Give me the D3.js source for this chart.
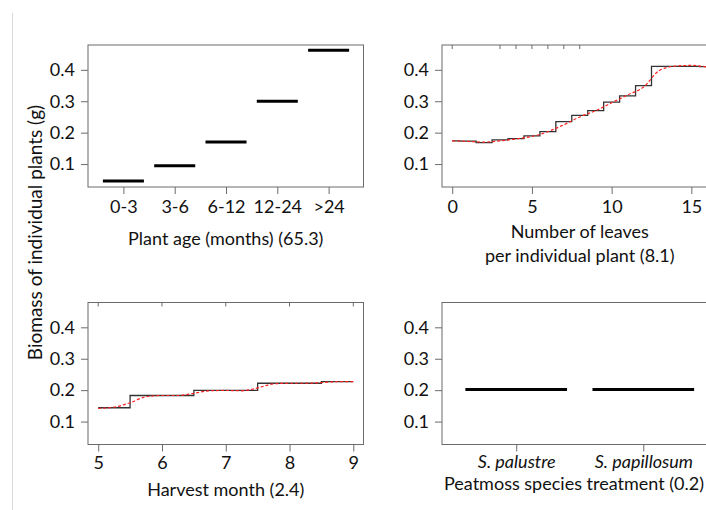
<!DOCTYPE html>
<html>
<head>
<meta charset="utf-8">
<script src="https://cdn.jsdelivr.net/npm/d3@7"></script>
<style>
  body { margin: 0; background: #fff; }
  svg { display: block; font-family: Lato, "Open Sans", sans-serif; }
</style>
</head>
<body>
<div id="chart"></div>
<script>
// Plant age (categorical)
const ageClasses = ["0-3", "3-6", "6-12", "12-24", ">24"];
const ageBiomass = [0.046, 0.095, 0.170, 0.300, 0.462];

// Number of leaves (fitted step + smooth)
const leafCounts = [0, 1, 2, 3, 4, 5, 6, 7, 8, 9, 10, 11, 12, 13, 14, 15, 16];
const leafStep   = [0.174, 0.173, 0.168, 0.177, 0.181, 0.190, 0.203, 0.235, 0.255, 0.270, 0.297, 0.317, 0.350, 0.411, 0.411, 0.411, 0.410];
const leafSmooth = [0.174, 0.172, 0.170, 0.174, 0.180, 0.188, 0.203, 0.225, 0.250, 0.270, 0.295, 0.320, 0.345, 0.398, 0.412, 0.414, 0.409];
const leafRug = [0, 3, 4, 5, 6, 7, 8];
const leafTicks = [0, 5, 10, 15];

// Harvest month
const months = [5, 6, 7, 8, 9];
const monthStep = [0.144, 0.183, 0.199, 0.222, 0.227];
const monthSmoothX = [5, 5.25, 5.5, 5.75, 6, 6.25, 6.5, 6.75, 7, 7.25, 7.5, 7.75, 8, 8.25, 8.5, 8.75, 9];
const monthSmoothY = [0.142, 0.146, 0.160, 0.179, 0.183, 0.183, 0.190, 0.198, 0.199, 0.198, 0.207, 0.220, 0.222, 0.222, 0.224, 0.227, 0.227];
const monthRug = [5, 6, 7, 8, 9];

// Peatmoss species
const species = ["S. palustre", "S. papillosum"];
const speciesBiomass = [0.202, 0.202];

const yTicks = [0.1, 0.2, 0.3, 0.4];

const width = 706, height = 510;
const boxColor = "#6b6b6b";

const svg = d3.select("#chart").append("svg")
    .attr("width", width)
    .attr("height", height);

// faint border line on the left
svg.append("line")
    .attr("x1", 12.5).attr("x2", 12.5)
    .attr("y1", 13).attr("y2", height)
    .attr("stroke", "#d9d9d9");

// shared y label
svg.append("text")
    .attr("transform", "translate(41.5,232.5) rotate(-90)")
    .attr("text-anchor", "middle")
    .attr("font-size", 19)
    .attr("fill", "#111")
    .text("Biomass of individual plants (g)");

function makePanel(left, top, xDomain) {
    const w = 275.5, h = 142;
    const x = d3.scaleLinear().domain(xDomain).range([left, left + w]);
    const y = d3.scaleLinear().domain([0.027, 0.479]).range([top + h, top]);
    const g = svg.append("g");

    // Y axis
    const ya = g.append("g")
        .attr("transform", `translate(${left},0)`)
        .call(d3.axisLeft(y).tickValues(yTicks).tickSize(7).tickPadding(6).tickFormat(d3.format(".1f")));
    ya.select(".domain").remove();
    ya.selectAll("line").attr("stroke", boxColor);
    ya.selectAll("text").attr("font-size", 18).attr("fill", "#111");
    ya.attr("font-family", null);

    g.append("rect")
        .attr("x", left).attr("y", top)
        .attr("width", w).attr("height", h)
        .attr("fill", "none")
        .attr("stroke", boxColor);

    return { g, x, y, left, top, w, h };
}

function bottomAxis(p, ticks, labels, italic, labelY) {
    const a = p.g.append("g")
        .attr("transform", `translate(0,${p.top + p.h})`)
        .call(d3.axisBottom(p.x).tickValues(ticks).tickSize(7)
            .tickFormat((d, i) => labels ? labels[i] : d));
    a.attr("font-family", null);
    a.select(".domain").remove();
    a.selectAll("line").attr("stroke", boxColor);
    a.selectAll("text")
        .attr("y", labelY).attr("dy", "0.35em")
        .attr("font-size", 18).attr("fill", "#111")
        .attr("font-style", italic ? "italic" : null);
}

function title(p, lines, yPos, cx) {
    lines.forEach((t, i) => {
        p.g.append("text")
            .attr("x", cx)
            .attr("y", yPos[i])
            .attr("dy", "0.35em")
            .attr("text-anchor", "middle")
            .attr("font-size", 18)
            .attr("fill", "#111")
            .text(t);
    });
}

function rug(p, values) {
    p.g.selectAll(null)
        .data(values)
        .enter().append("line")
        .attr("x1", d => p.x(d)).attr("x2", d => p.x(d))
        .attr("y1", p.top).attr("y2", p.top + 4)
        .attr("stroke", boxColor);
}

function segments(p, values) {
    p.g.selectAll(null)
        .data(values)
        .enter().append("line")
        .attr("x1", (d, i) => p.x(i + 1 - 0.4))
        .attr("x2", (d, i) => p.x(i + 1 + 0.4))
        .attr("y1", d => p.y(d)).attr("y2", d => p.y(d))
        .attr("stroke", "#000")
        .attr("stroke-width", 3);
}

function stepAndSmooth(p, xs, steps, sx, sy) {
    const step = d3.line().x(d => p.x(d[0])).y(d => p.y(d[1])).curve(d3.curveStep);
    const smooth = d3.line().x(d => p.x(d[0])).y(d => p.y(d[1])).curve(d3.curveMonotoneX);
    p.g.append("path")
        .datum(xs.map((v, i) => [v, steps[i]]))
        .attr("fill", "none")
        .attr("stroke", "#333")
        .attr("stroke-width", 1.3)
        .attr("d", step);
    p.g.append("path")
        .datum(sx.map((v, i) => [v, sy[i]]))
        .attr("fill", "none")
        .attr("stroke", "#ff2020")
        .attr("stroke-width", 1.2)
        .attr("stroke-dasharray", "3,2")
        .attr("d", smooth);
}

// Panel 1: plant age
const p1 = makePanel(88, 45, [0.31, 5.68]);
segments(p1, ageBiomass);
bottomAxis(p1, ageClasses.map((d, i) => i + 1), ageClasses, false, 19.5);
title(p1, ["Plant age (months) (65.3)"], [239], p1.left + p1.w / 2);

// Panel 2: number of leaves
const p2 = makePanel(442, 45, [-0.64, 16.64]);
stepAndSmooth(p2, leafCounts, leafStep, leafCounts, leafSmooth);
rug(p2, leafRug);
bottomAxis(p2, leafTicks, null, false, 19.5);
title(p2, ["Number of leaves", "per individual plant (8.1)"], [231.5, 256], p2.left + p2.w / 2);

// Panel 3: harvest month
const p3 = makePanel(88, 302.5, [4.84, 9.16]);
stepAndSmooth(p3, months, monthStep, monthSmoothX, monthSmoothY);
rug(p3, monthRug);
bottomAxis(p3, months, null, false, 18.5);
title(p3, ["Harvest month (2.4)"], [490], p3.left + p3.w / 2);

// Panel 4: peatmoss species
const p4 = makePanel(442, 302.5, [0.416, 2.584]);
segments(p4, speciesBiomass);
bottomAxis(p4, species.map((d, i) => i + 1), species, true, 17);
title(p4, ["Peatmoss species treatment (0.2)"], [484], 574);
</script>
</body>
</html>
